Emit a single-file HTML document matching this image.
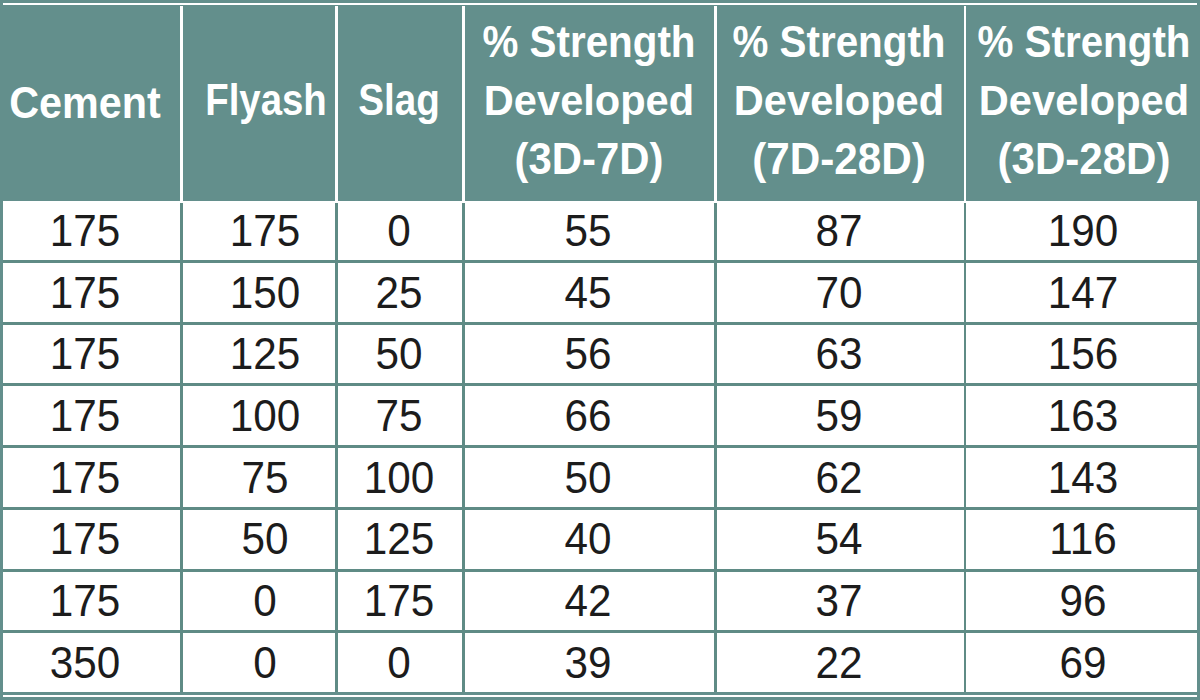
<!DOCTYPE html>
<html><head><meta charset="utf-8"><style>
html,body{margin:0;padding:0}
body{width:1200px;height:700px;position:relative;overflow:hidden;background:rgb(99,143,140);font-family:"Liberation Sans",sans-serif}
.r{position:absolute}
.h,.b{position:absolute;white-space:nowrap;line-height:1}
.h{font-weight:bold;font-size:44px;color:#fff}
.b{font-size:45px;color:#1c1c1c}
</style></head><body>
<div class="r" style="left:3px;top:201px;width:1194px;height:491px;background:#fff"></div>
<div class="r" style="left:3px;top:3px;width:1194px;height:2.2px;background:#fff"></div>
<div class="r" style="left:180px;top:6px;width:3px;height:197px;background:#fff"></div>
<div class="r" style="left:335px;top:6px;width:3px;height:197px;background:#fff"></div>
<div class="r" style="left:462px;top:6px;width:3px;height:197px;background:#fff"></div>
<div class="r" style="left:714px;top:6px;width:3px;height:197px;background:#fff"></div>
<div class="r" style="left:963.5px;top:6px;width:2.5px;height:197px;background:#fff"></div>
<div class="r" style="left:3px;top:201px;width:1194px;height:2px;background:#fff"></div>
<div class="r" style="left:180px;top:203px;width:3px;height:489px;background:rgb(95,139,133)"></div>
<div class="r" style="left:335px;top:203px;width:3px;height:489px;background:rgb(95,139,133)"></div>
<div class="r" style="left:462px;top:203px;width:3px;height:489px;background:rgb(95,139,133)"></div>
<div class="r" style="left:714px;top:203px;width:3px;height:489px;background:rgb(95,139,133)"></div>
<div class="r" style="left:963.5px;top:203px;width:2.5px;height:489px;background:rgb(95,139,133)"></div>
<div class="r" style="left:3px;top:260.0px;width:1194px;height:3.0px;background:rgb(95,139,133)"></div>
<div class="r" style="left:3px;top:321.7px;width:1194px;height:3.0px;background:rgb(95,139,133)"></div>
<div class="r" style="left:3px;top:383.4px;width:1194px;height:3.0px;background:rgb(95,139,133)"></div>
<div class="r" style="left:3px;top:445.1px;width:1194px;height:3.0px;background:rgb(95,139,133)"></div>
<div class="r" style="left:3px;top:506.8px;width:1194px;height:3.0px;background:rgb(95,139,133)"></div>
<div class="r" style="left:3px;top:568.5px;width:1194px;height:3.0px;background:rgb(95,139,133)"></div>
<div class="r" style="left:3px;top:630.2px;width:1194px;height:3.0px;background:rgb(95,139,133)"></div>
<div class="r" style="left:3px;top:695px;width:1194px;height:2px;background:#fff"></div>
<div class="h" style="left:85.3px;top:79.91px;font-size:45px;transform:translateX(-50%) scaleX(0.9175)">Cement</div>
<div class="h" style="left:265.6px;top:77.75px;font-size:44px;transform:translateX(-50%) scaleX(0.8716)">Flyash</div>
<div class="h" style="left:398.8px;top:77.75px;font-size:44px;transform:translateX(-50%) scaleX(0.8778)">Slag</div>
<div class="h" style="left:588.8px;top:21.08px;font-size:43.5px;transform:translateX(-50%) scaleX(0.9275)">% Strength</div>
<div class="h" style="left:588.8px;top:78.6px;font-size:43px;transform:translateX(-50%) scaleX(0.9671)">Developed</div>
<div class="h" style="left:588.8px;top:137.15px;font-size:44px;transform:translateX(-50%) scaleX(0.9512)">(3D-7D)</div>
<div class="h" style="left:839.1px;top:21.08px;font-size:43.5px;transform:translateX(-50%) scaleX(0.9275)">% Strength</div>
<div class="h" style="left:839.1px;top:78.6px;font-size:43px;transform:translateX(-50%) scaleX(0.9671)">Developed</div>
<div class="h" style="left:839.1px;top:137.15px;font-size:44px;transform:translateX(-50%) scaleX(0.9602)">(7D-28D)</div>
<div class="h" style="left:1083.6px;top:21.08px;font-size:43.5px;transform:translateX(-50%) scaleX(0.9275)">% Strength</div>
<div class="h" style="left:1083.6px;top:78.6px;font-size:43px;transform:translateX(-50%) scaleX(0.9671)">Developed</div>
<div class="h" style="left:1083.6px;top:137.15px;font-size:44px;transform:translateX(-50%) scaleX(0.9562)">(3D-28D)</div>
<div class="b" style="left:84.6px;top:207.91px;transform:translateX(-50%) scaleX(0.939)">175</div>
<div class="b" style="left:265.0px;top:207.91px;transform:translateX(-50%) scaleX(0.939)">175</div>
<div class="b" style="left:398.6px;top:207.91px;transform:translateX(-50%) scaleX(0.939)">0</div>
<div class="b" style="left:588.3px;top:207.91px;transform:translateX(-50%) scaleX(0.939)">55</div>
<div class="b" style="left:839.3px;top:207.91px;transform:translateX(-50%) scaleX(0.939)">87</div>
<div class="b" style="left:1082.5px;top:207.91px;transform:translateX(-50%) scaleX(0.939)">190</div>
<div class="b" style="left:84.6px;top:269.61px;transform:translateX(-50%) scaleX(0.939)">175</div>
<div class="b" style="left:265.0px;top:269.61px;transform:translateX(-50%) scaleX(0.939)">150</div>
<div class="b" style="left:398.6px;top:269.61px;transform:translateX(-50%) scaleX(0.939)">25</div>
<div class="b" style="left:588.3px;top:269.61px;transform:translateX(-50%) scaleX(0.939)">45</div>
<div class="b" style="left:839.3px;top:269.61px;transform:translateX(-50%) scaleX(0.939)">70</div>
<div class="b" style="left:1082.5px;top:269.61px;transform:translateX(-50%) scaleX(0.939)">147</div>
<div class="b" style="left:84.6px;top:331.31px;transform:translateX(-50%) scaleX(0.939)">175</div>
<div class="b" style="left:265.0px;top:331.31px;transform:translateX(-50%) scaleX(0.939)">125</div>
<div class="b" style="left:398.6px;top:331.31px;transform:translateX(-50%) scaleX(0.939)">50</div>
<div class="b" style="left:588.3px;top:331.31px;transform:translateX(-50%) scaleX(0.939)">56</div>
<div class="b" style="left:839.3px;top:331.31px;transform:translateX(-50%) scaleX(0.939)">63</div>
<div class="b" style="left:1082.5px;top:331.31px;transform:translateX(-50%) scaleX(0.939)">156</div>
<div class="b" style="left:84.6px;top:393.01px;transform:translateX(-50%) scaleX(0.939)">175</div>
<div class="b" style="left:265.0px;top:393.01px;transform:translateX(-50%) scaleX(0.939)">100</div>
<div class="b" style="left:398.6px;top:393.01px;transform:translateX(-50%) scaleX(0.939)">75</div>
<div class="b" style="left:588.3px;top:393.01px;transform:translateX(-50%) scaleX(0.939)">66</div>
<div class="b" style="left:839.3px;top:393.01px;transform:translateX(-50%) scaleX(0.939)">59</div>
<div class="b" style="left:1082.5px;top:393.01px;transform:translateX(-50%) scaleX(0.939)">163</div>
<div class="b" style="left:84.6px;top:454.71px;transform:translateX(-50%) scaleX(0.939)">175</div>
<div class="b" style="left:265.0px;top:454.71px;transform:translateX(-50%) scaleX(0.939)">75</div>
<div class="b" style="left:398.6px;top:454.71px;transform:translateX(-50%) scaleX(0.939)">100</div>
<div class="b" style="left:588.3px;top:454.71px;transform:translateX(-50%) scaleX(0.939)">50</div>
<div class="b" style="left:839.3px;top:454.71px;transform:translateX(-50%) scaleX(0.939)">62</div>
<div class="b" style="left:1082.5px;top:454.71px;transform:translateX(-50%) scaleX(0.939)">143</div>
<div class="b" style="left:84.6px;top:516.41px;transform:translateX(-50%) scaleX(0.939)">175</div>
<div class="b" style="left:265.0px;top:516.41px;transform:translateX(-50%) scaleX(0.939)">50</div>
<div class="b" style="left:398.6px;top:516.41px;transform:translateX(-50%) scaleX(0.939)">125</div>
<div class="b" style="left:588.3px;top:516.41px;transform:translateX(-50%) scaleX(0.939)">40</div>
<div class="b" style="left:839.3px;top:516.41px;transform:translateX(-50%) scaleX(0.939)">54</div>
<div class="b" style="left:1082.5px;top:516.41px;transform:translateX(-50%) scaleX(0.939)">116</div>
<div class="b" style="left:84.6px;top:578.11px;transform:translateX(-50%) scaleX(0.939)">175</div>
<div class="b" style="left:265.0px;top:578.11px;transform:translateX(-50%) scaleX(0.939)">0</div>
<div class="b" style="left:398.6px;top:578.11px;transform:translateX(-50%) scaleX(0.939)">175</div>
<div class="b" style="left:588.3px;top:578.11px;transform:translateX(-50%) scaleX(0.939)">42</div>
<div class="b" style="left:839.3px;top:578.11px;transform:translateX(-50%) scaleX(0.939)">37</div>
<div class="b" style="left:1082.5px;top:578.11px;transform:translateX(-50%) scaleX(0.939)">96</div>
<div class="b" style="left:84.6px;top:639.81px;transform:translateX(-50%) scaleX(0.939)">350</div>
<div class="b" style="left:265.0px;top:639.81px;transform:translateX(-50%) scaleX(0.939)">0</div>
<div class="b" style="left:398.6px;top:639.81px;transform:translateX(-50%) scaleX(0.939)">0</div>
<div class="b" style="left:588.3px;top:639.81px;transform:translateX(-50%) scaleX(0.939)">39</div>
<div class="b" style="left:839.3px;top:639.81px;transform:translateX(-50%) scaleX(0.939)">22</div>
<div class="b" style="left:1082.5px;top:639.81px;transform:translateX(-50%) scaleX(0.939)">69</div>
</body></html>
